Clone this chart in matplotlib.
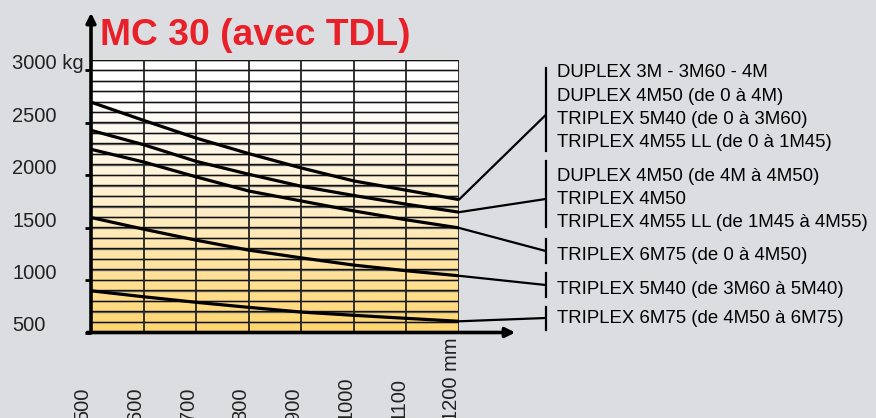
import numpy as np
import matplotlib
matplotlib.use('Agg')
import matplotlib.pyplot as plt
from matplotlib.colors import LinearSegmentedColormap

plt.rcParams['font.family'] = ['Liberation Sans', 'DejaVu Sans']

# data
widths = [500, 600, 700, 800, 900, 1000, 1100, 1200]      # mm
cap_a = [2698, 2524, 2355, 2207, 2070, 1946, 1857, 1768]  # kg
cap_b = [2429, 2292, 2133, 2010, 1895, 1807, 1724, 1648]
cap_c = [2248, 2127, 1985, 1850, 1755, 1660, 1575, 1498]
cap_d = [1597, 1486, 1381, 1286, 1212, 1143, 1089, 1041]
cap_e = [898, 841, 788, 740, 695, 664, 635, 607]
yticks = [500, 1000, 1500, 2000, 2500, 3000]
ytick_labels = ['500', '1000', '1500', '2000', '2500', '3000 kg']
xtick_labels = ['500', '600', '700', '800', '900', '1000', '1100', '1200 mm']
title = 'MC 30 (avec TDL)'
groups = [
    ['DUPLEX 3M - 3M60 - 4M', 'DUPLEX 4M50 (de 0 à 4M)',
     'TRIPLEX 5M40 (de 0 à 3M60)', 'TRIPLEX 4M55 LL (de 0 à 1M45)'],
    ['DUPLEX 4M50 (de 4M à 4M50)', 'TRIPLEX 4M50',
     'TRIPLEX 4M55 LL (de 1M45 à 4M55)'],
    ['TRIPLEX 6M75 (de 0 à 4M50)'],
    ['TRIPLEX 5M40 (de 3M60 à 5M40)'],
    ['TRIPLEX 6M75 (de 4M50 à 6M75)'],
]

W, H = 876, 418
BG = '#dcdde0'


def fxy(x, y):
    # pixel position (from top left) -> figure fraction
    return x / W, 1 - y / H


fig = plt.figure(figsize=(W / 100, H / 100), dpi=100, facecolor=BG)
ax = fig.add_axes([91 / W, 1 - 332.5 / H, (459 - 91) / W, (332.5 - 60) / H])
ax.set_xlim(500, 1200)
ax.set_ylim(500, 3100)

# yellow -> white background
cmap = LinearSegmentedColormap.from_list(
    'ylw', [(0.0, '#ffd66e'), (0.45, '#ffeec8'), (0.85, '#ffffff'), (1.0, '#ffffff')])
grad = np.linspace(0, 1, 256).reshape(-1, 1)
ax.imshow(grad, extent=[500, 1200, 500, 3100], origin='lower', aspect='auto',
          cmap=cmap, zorder=0)

for kg in range(600, 3101, 100):
    ax.axhline(kg, color='#6a6a6a', lw=1.0, zorder=1)
    ax.axhline(kg + 4, color='#111111', lw=1.0, zorder=1)
for mm in widths[1:]:
    ax.axvline(mm, color='#222222', lw=1.3, zorder=1)

for caps in [cap_a, cap_b, cap_c, cap_d, cap_e]:
    ax.plot(widths, caps, color='black', lw=2.3, solid_capstyle='butt', zorder=3)

for s in ax.spines.values():
    s.set_visible(False)
ax.set_xticks([])
ax.set_yticks(yticks)
ax.set_yticklabels([])
ax.tick_params(axis='y', length=4, width=2, direction='out', color='black')

# axes with arrows
ax.annotate('', xy=(500, 3550), xytext=(500, 500), annotation_clip=False,
            arrowprops=dict(arrowstyle='-|>', lw=2.6, color='black',
                            mutation_scale=14, shrinkA=0, shrinkB=0))
ax.annotate('', xy=(1307, 500), xytext=(493, 500), annotation_clip=False,
            arrowprops=dict(arrowstyle='-|>', lw=2.6, color='black',
                            mutation_scale=14, shrinkA=0, shrinkB=0))

# tick labels
ytr = matplotlib.transforms.blended_transform_factory(fig.transFigure, ax.transData)
for v, lab in zip(yticks, ytick_labels):
    ax.text(12 / W, v + 10, lab, transform=ytr, ha='left', va='baseline',
            fontsize=14.5, color='#222222')
xtr = matplotlib.transforms.blended_transform_factory(ax.transData, fig.transFigure)
for v, lab in zip(widths, xtick_labels):
    ax.text(v + 3, fxy(0, 421)[1], lab, transform=xtr, rotation=90, ha='right',
            va='bottom', fontsize=14.5, color='#222222')

fig.text(*fxy(100, 45), title, ha='left', va='baseline', fontsize=26.8,
         fontweight='bold', color='#e8202a')

# leader lines, brackets and labels
bx = 545.7
joins = [115, 199, 251, 285, 318]
spans = [(68, 151), (161, 227), (239, 263), (273, 297), (307, 330)]
baselines = [[77.3, 100.7, 124, 147.3], [180.7, 204, 227], [260], [294], [323]]
ends = [cap_a[-1], cap_b[-1], cap_c[-1], cap_d[-1], cap_e[-1]]
for end, jy, (y0, y1), bls, labels in zip(ends, joins, spans, baselines, groups):
    ax.annotate('', xy=(1200, end), xytext=fxy(bx, jy), textcoords='figure fraction',
                annotation_clip=False,
                arrowprops=dict(arrowstyle='-', lw=1.6, color='black',
                                shrinkA=0, shrinkB=0))
    fig.add_artist(plt.Line2D([bx / W, bx / W], [fxy(0, y0)[1], fxy(0, y1)[1]],
                              color='black', lw=1.6))
    for by, lab in zip(bls, labels):
        fig.text(*fxy(557, by), lab, ha='left', va='baseline', fontsize=13.4,
                 color='black')

fig.savefig('out.png', dpi=100, facecolor=BG)
